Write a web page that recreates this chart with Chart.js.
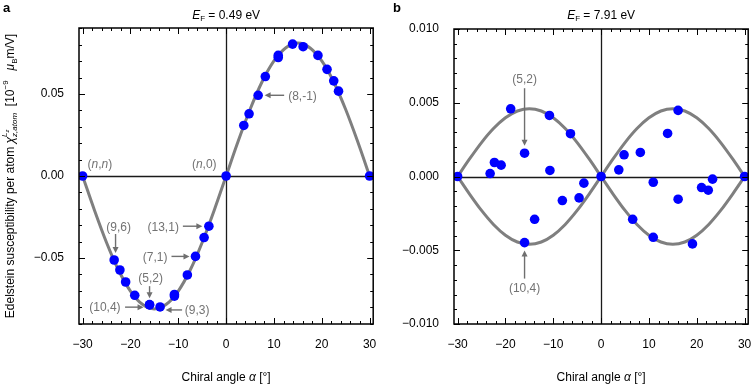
<!DOCTYPE html>
<html>
<head>
<meta charset="utf-8">
<script src="https://cdn.jsdelivr.net/npm/chart.js@4.4.1/dist/chart.umd.min.js"></script>
<style>
body { margin: 0; background: #fff; }
#wrap { position: relative; width: 753px; height: 384px; }
canvas { position: absolute; top: 0; }
#chartA { left: 0; }
#chartB { left: 378px; }
</style>
</head>
<body>
<div id="wrap">
<canvas id="chartA" width="378" height="384"></canvas>
<canvas id="chartB" width="375" height="384"></canvas>
</div>
<script>
const FONT = '"Liberation Sans", Arial, Helvetica, sans-serif';

// panel a: E_F = 0.49 eV
const angleA = [-30, -23.4, -22.2, -21.0, -19.1, -16.0, -16.0, -13.8, -10.8, -10.8, -8.1, -6.4, -4.6, -3.6,
  0, 3.7, 4.8, 6.7, 8.2, 10.9, 10.9, 13.9, 16.1, 19.2, 21.1, 22.5, 23.5, 30];
const chiA = [0, -0.0512, -0.0573, -0.0646, -0.0727, -0.0784, -0.0786, -0.0798, -0.0722, -0.0732, -0.0603, -0.049, -0.0375, -0.0306,
  0, 0.0308, 0.0379, 0.0492, 0.0606, 0.0735, 0.0722, 0.0804, 0.0788, 0.0735, 0.065, 0.058, 0.0517, 0];

// panel b: E_F = 7.91 eV
const angleB = [-30, -23.2, -22.3, -20.9, -18.9, -16.0, -16.0, -13.9, -10.8, -10.7, -8.1, -6.4, -4.6, -3.6,
  0, 3.7, 4.8, 6.6, 8.2, 10.9, 10.9, 13.9, 16.1, 16.1, 19.1, 21.0, 22.4, 23.3, 30];
const chiB = [0, 0.0002, 0.00095, 0.00077, 0.00459, 0.00158, -0.00448, -0.0029, 0.00414, 0.00041, -0.00163, 0.0029, -0.00145, -0.00045,
  0, 0.00045, 0.00147, -0.0029, 0.00163, -0.00039, -0.00412, 0.00292, 0.00448, -0.00154, -0.00457, -0.00075, -0.00093, -0.00018, 0];

// gray guide curves, read every 2.5 deg
const curveAngle = [-30, -27.5, -25, -22.5, -20, -17.5, -15, -12.5, -10, -7.5, -5, -2.5, 0,
  2.5, 5, 7.5, 10, 12.5, 15, 17.5, 20, 22.5, 25, 27.5, 30];
const curveA = [0, -0.021, -0.0405, -0.0573, -0.0701, -0.0782, -0.081, -0.0782, -0.0701, -0.0573, -0.0405, -0.021, 0,
  0.021, 0.0405, 0.0573, 0.0701, 0.0782, 0.081, 0.0782, 0.0701, 0.0573, 0.0405, 0.021, 0];
const curveB1 = [0, 0.00119, 0.0023, 0.00325, 0.00398, 0.00444, 0.0046, 0.00444, 0.00398, 0.00325, 0.0023, 0.00119, 0,
  -0.00119, -0.0023, -0.00325, -0.00398, -0.00444, -0.0046, -0.00444, -0.00398, -0.00325, -0.0023, -0.00119, 0];
const curveB2 = [0, -0.00119, -0.0023, -0.00325, -0.00398, -0.00444, -0.0046, -0.00444, -0.00398, -0.00325, -0.0023, -0.00119, 0,
  0.00119, 0.0023, 0.00325, 0.00398, 0.00444, 0.0046, 0.00444, 0.00398, 0.00325, 0.0023, 0.00119, 0];

const xTicks = [-30, -20, -10, 0, 10, 20, 30];

const toXY = (xs, ys) => xs.map((x, i) => ({ x: x, y: ys[i] }));

function nn(a, b) { // "(a,b)" with italic letters
  return [{ t: '(' }, { t: a, it: /[a-z]/.test(a) }, { t: ',' }, { t: b, it: /[a-z]/.test(b) }, { t: ')' }];
}

// lay out mixed-font text, returns items + total width
function layoutRich(ctx, parts) {
  let x = 0, mark = 0, maxX = 0;
  const items = [];
  for (const p of parts) {
    const size = p.s || 12;
    const font = (p.it ? 'italic ' : '') + (p.b ? 'bold ' : '') + size + 'px ' + FONT;
    ctx.font = font;
    if (p.mark) mark = x;
    if (p.reset) x = mark;
    items.push({ t: p.t, font: font, x: x, dy: p.dy || 0 });
    x += ctx.measureText(p.t).width;
    maxX = Math.max(maxX, x);
    if (p.reset) x = maxX;
  }
  return { items: items, width: maxX };
}

function drawRich(ctx, parts, cx, cy, align, rot, color) {
  const lay = layoutRich(ctx, parts);
  ctx.save();
  ctx.translate(cx, cy);
  if (rot) ctx.rotate(rot);
  ctx.fillStyle = color || '#000';
  ctx.textBaseline = 'alphabetic';
  ctx.textAlign = 'left';
  let x0 = -lay.width / 2;
  if (align === 'left') x0 = 0;
  if (align === 'right') x0 = -lay.width;
  for (const it of lay.items) {
    ctx.font = it.font;
    ctx.fillText(it.t, x0 + it.x, 4.3 + it.dy);
  }
  ctx.restore();
}

function arrow(ctx, x0, y0, x1, y1) {
  const a = Math.atan2(y1 - y0, x1 - x0);
  const hl = 6, hw = 3;
  ctx.beginPath();
  ctx.moveTo(x0, y0);
  ctx.lineTo(x1 - Math.cos(a) * hl * 0.8, y1 - Math.sin(a) * hl * 0.8);
  ctx.stroke();
  ctx.beginPath();
  ctx.moveTo(x1, y1);
  ctx.lineTo(x1 - Math.cos(a) * hl - Math.sin(a) * hw, y1 - Math.sin(a) * hl + Math.cos(a) * hw);
  ctx.lineTo(x1 - Math.cos(a) * hl + Math.sin(a) * hw, y1 - Math.sin(a) * hl - Math.cos(a) * hw);
  ctx.closePath();
  ctx.fill();
}

const decoPlugin = {
  id: 'deco',
  beforeDatasetsDraw(chart, args, o) {
    const ctx = chart.ctx, a = chart.chartArea;
    const xs = chart.scales.x, ys = chart.scales.y;
    ctx.save();
    ctx.strokeStyle = '#1a1a1a';
    ctx.lineWidth = 1.3;
    const x0 = Math.round(xs.getPixelForValue(0)) + 0.5;
    const y0 = Math.round(ys.getPixelForValue(0)) + 0.5;
    ctx.beginPath();
    ctx.moveTo(a.left, y0); ctx.lineTo(a.right, y0);
    ctx.moveTo(x0, a.top); ctx.lineTo(x0, a.bottom);
    ctx.stroke();
    ctx.restore();
  },
  afterDatasetsDraw(chart, args, o) {
    const ctx = chart.ctx, a = chart.chartArea;
    const xs = chart.scales.x, ys = chart.scales.y;
    ctx.save();
    // inward ticks on all four sides
    ctx.strokeStyle = '#000';
    ctx.lineWidth = 1;
    ctx.beginPath();
    for (let i = -15; i <= 15; i++) {
      const v = i * 2;
      const px = Math.round(xs.getPixelForValue(v)) + 0.5;
      const len = (v % 10 === 0) ? 6 : 3;
      ctx.moveTo(px, a.bottom); ctx.lineTo(px, a.bottom - len);
      ctx.moveTo(px, a.top); ctx.lineTo(px, a.top + len);
    }
    for (let i = -o.yMinorCount; i <= o.yMinorCount; i++) {
      const py = Math.round(ys.getPixelForValue(i * o.yMinor)) + 0.5;
      const len = (i % o.yMajorEvery === 0) ? 6 : 3;
      ctx.moveTo(a.left, py); ctx.lineTo(a.left + len, py);
      ctx.moveTo(a.right, py); ctx.lineTo(a.right - len, py);
    }
    ctx.stroke();
    ctx.lineWidth = 1.5;
    ctx.strokeRect(a.left, a.top, a.right - a.left, a.bottom - a.top);

    // annotations
    ctx.strokeStyle = '#6f6f6f';
    ctx.fillStyle = '#6f6f6f';
    ctx.lineWidth = 1.4;
    for (const an of o.notes) {
      const px = xs.getPixelForValue(an.x), py = ys.getPixelForValue(an.y);
      if (an.arrow) arrow(ctx, px + an.arrow[0], py + an.arrow[1], px + an.arrow[2], py + an.arrow[3]);
      drawRich(ctx, an.text, px + an.tx, py + an.ty, an.align, 0, '#737373');
    }
    ctx.restore();
  },
  afterDraw(chart, args, o) {
    const ctx = chart.ctx, a = chart.chartArea;
    const cx = (a.left + a.right) / 2;
    drawRich(ctx, [{ t: 'E', it: true }, { t: 'F', s: 8, dy: 2 }, { t: ' = ' + o.ef + ' eV' }], cx, 15, 'center');
    drawRich(ctx, [{ t: 'Chiral angle ' }, { t: 'α', it: true }, { t: ' [°]' }], cx, 376.5, 'center');
    drawRich(ctx, [{ t: o.panel, b: true, s: 13 }], o.panelX, 8, 'left');
    if (o.yTitle) {
      drawRich(ctx, [
        { t: 'Edelstein susceptibility per atom ' },
        { t: 'χ', it: true },
        { t: 'L', s: 8, it: true, dy: -7, mark: true },
        { t: 'z', s: 6, it: true, dy: -5 },
        { t: 'z,atom', s: 8, it: true, dy: 3, reset: true },
        { t: '  [10' },
        { t: '−9', s: 8, dy: -6 },
        { t: '   ' },
        { t: 'μ', it: true },
        { t: 'B', s: 8, dy: 3 },
        { t: 'm/V]' }
      ], 10, (a.top + a.bottom) / 2, 'center', -Math.PI / 2);
    }
  }
};

function minusFmt(v, d) {
  return v.toFixed(d).replace('-', '−');
}

function makeChart(id, cfg) {
  const datasets = [{
    data: toXY(cfg.px, cfg.py),
    backgroundColor: '#0000ff',
    borderWidth: 0,
    pointRadius: 4.8,
    showLine: false
  }];
  for (const c of cfg.curves) {
    datasets.push({
      data: toXY(curveAngle, c),
      showLine: true,
      pointRadius: 0,
      borderColor: '#7f7f7f',
      borderWidth: 3,
      cubicInterpolationMode: 'monotone'
    });
  }
  return new Chart(document.getElementById(id), {
    type: 'scatter',
    data: { datasets: datasets },
    options: {
      responsive: false,
      animation: false,
      layout: { padding: { top: cfg.top, right: cfg.right, left: 0, bottom: 0 } },
      plugins: {
        legend: { display: false },
        tooltip: { enabled: false },
        deco: {
          ef: cfg.ef, panel: cfg.panel, panelX: cfg.panelX, yTitle: cfg.yTitle,
          yMinor: cfg.yMinor, yMinorCount: cfg.yMinorCount, yMajorEvery: cfg.yMajorEvery,
          notes: cfg.notes
        }
      },
      scales: {
        x: {
          type: 'linear',
          min: -30.75, max: 30.75,
          afterFit: s => { s.height = 384 - cfg.bottom; s.paddingLeft = 0; s.paddingRight = 0; },
          afterBuildTicks: s => { s.ticks = xTicks.map(v => ({ value: v })); },
          grid: { display: false },
          border: { display: false },
          ticks: {
            color: '#000', padding: 5, maxRotation: 0,
            font: { family: FONT, size: 12 },
            callback: v => minusFmt(v, 0)
          }
        },
        y: {
          min: -cfg.yLim, max: cfg.yLim,
          afterFit: s => { s.width = cfg.left; s.paddingTop = 0; s.paddingBottom = 0; },
          afterBuildTicks: s => { s.ticks = cfg.yTicks.map(v => ({ value: v })); },
          grid: { display: false },
          border: { display: false },
          ticks: {
            color: '#000', padding: 7,
            font: { family: FONT, size: 12 },
            callback: v => minusFmt(v, cfg.yDec)
          }
        }
      }
    },
    plugins: [decoPlugin]
  });
}

makeChart('chartA', {
  px: angleA, py: chiA, curves: [curveA],
  ef: '0.49', panel: 'a', panelX: 3, yTitle: true,
  yLim: 0.0902, yTicks: [-0.05, 0, 0.05], yDec: 2,
  yMinor: 0.01, yMinorCount: 9, yMajorEvery: 5,
  top: 28, right: 3, left: 79, bottom: 324,
  notes: [
    { x: -30, y: 0, text: nn('n', 'n'), tx: 5, ty: -12.5, align: 'left' },
    { x: 0, y: 0, text: nn('n', '0'), tx: -9.5, ty: -12.5, align: 'right' },
    { x: 6.7, y: 0.0492, text: nn('8', '-1'), tx: 30, ty: 0, align: 'left', arrow: [26, 0, 6.5, 0] },
    { x: -3.6, y: -0.0306, text: nn('13', '1'), tx: -30, ty: 0, align: 'right', arrow: [-26, 0, -6.5, 0] },
    { x: -6.4, y: -0.049, text: nn('7', '1'), tx: -28, ty: 0, align: 'right', arrow: [-24, 0, -6, 0] },
    { x: -23.4, y: -0.0512, text: nn('9', '6'), tx: 4.5, ty: -33, align: 'center', arrow: [1.4, -26, 1.4, -7] },
    { x: -16.0, y: -0.0784, text: nn('5', '2'), tx: 1, ty: -27, align: 'center', arrow: [0, -18.5, 0, -6.5] },
    { x: -16.0, y: -0.0784, text: nn('10', '4'), tx: -29, ty: 2.5, align: 'right', arrow: [-24.5, 2.5, -6, 2.5] },
    { x: -13.8, y: -0.0798, text: nn('9', '3'), tx: 24.7, ty: 3, align: 'left', arrow: [22, 3, 5.5, 3] }
  ]
});

makeChart('chartB', {
  px: angleB, py: chiB, curves: [curveB1, curveB2],
  ef: '7.91', panel: 'b', panelX: 15, yTitle: false,
  yLim: 0.010, yTicks: [-0.01, -0.005, 0, 0.005, 0.01], yDec: 3,
  yMinor: 0.001, yMinorCount: 10, yMajorEvery: 5,
  top: 29, right: 4, left: 76, bottom: 324,
  notes: [
    { x: -16.0, y: 0.00158, text: nn('5', '2'), tx: 0, ty: -74, align: 'center', arrow: [0, -65, 0, -7.5] },
    { x: -16.0, y: -0.00448, text: nn('10', '4'), tx: 0, ty: 44.7, align: 'center', arrow: [0, 36, 0, 8] }
  ]
});
</script>
</body>
</html>
